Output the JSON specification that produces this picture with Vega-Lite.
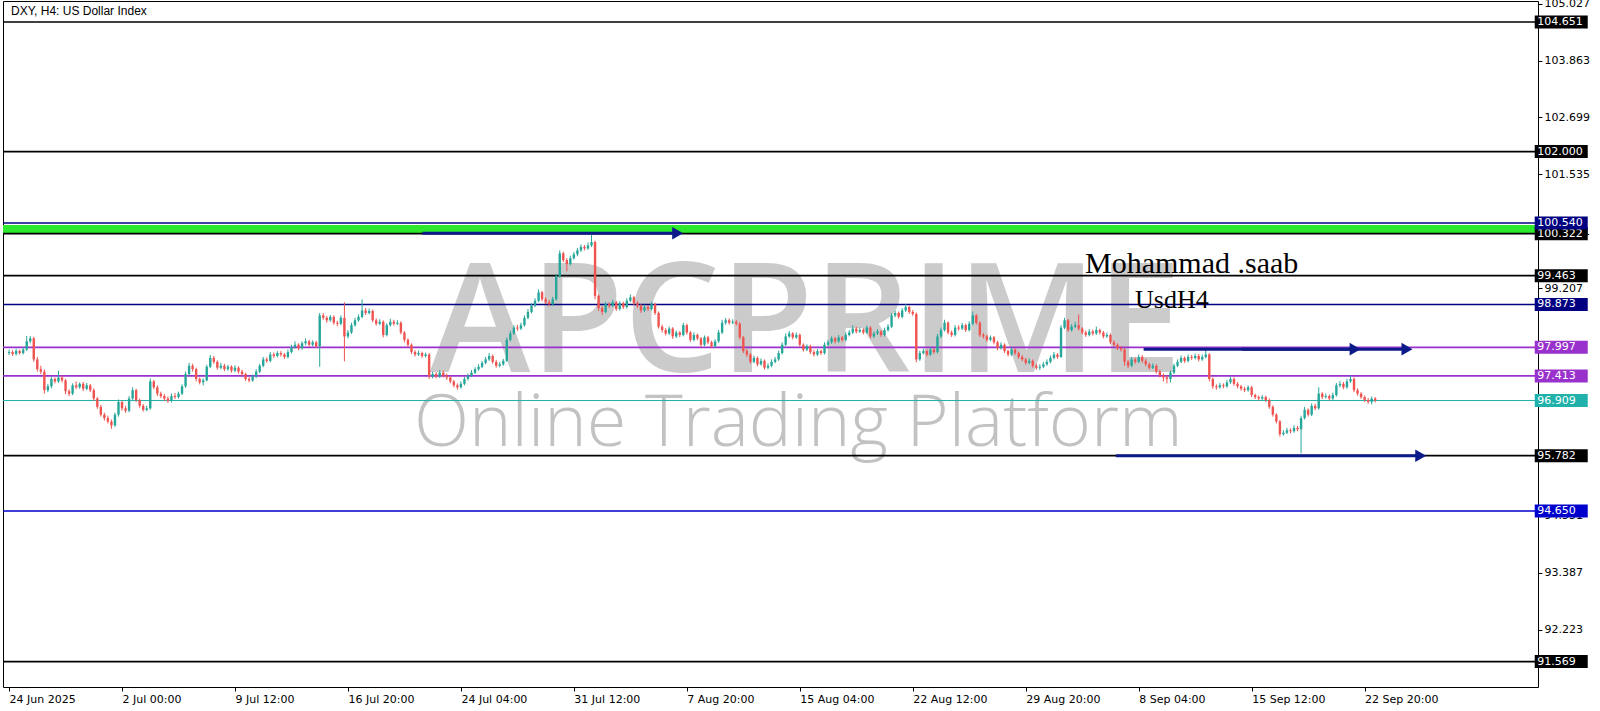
{
"$schema": "https://vega.github.io/schema/vega-lite/v6.json",
"width": 1535, "height": 686,
"autosize": {"type": "none"},
"padding": {"left": 3, "top": 1, "right": 62, "bottom": 24},
"background": "#ffffff",
"config": {"view": {"stroke": "#000000", "strokeWidth": 1}, "axis": {"labelFont": "DejaVu Sans"}},
"resolve": {"axis": {"x": "independent", "y": "independent"}},
"datasets": {
"bars": [
{"t":0,"o":97.88,"h":97.95,"l":97.84,"c":97.90},{"t":1,"o":97.90,"h":97.94,"l":97.82,"c":97.86},{"t":2,"o":97.86,"h":97.97,"l":97.83,"c":97.92},{"t":3,"o":97.92,"h":97.95,"l":97.85,"c":97.88},{"t":4,"o":97.88,"h":98.00,"l":97.85,"c":97.95},{"t":5,"o":97.95,"h":98.23,"l":97.92,"c":98.12},{"t":6,"o":98.12,"h":98.23,"l":98.08,"c":98.18},{"t":7,"o":98.18,"h":98.21,"l":97.70,"c":97.75},{"t":8,"o":97.75,"h":97.80,"l":97.50,"c":97.55},{"t":9,"o":97.55,"h":97.62,"l":97.45,"c":97.50},
{"t":10,"o":97.50,"h":97.54,"l":97.05,"c":97.12},{"t":11,"o":97.12,"h":97.25,"l":97.08,"c":97.20},{"t":12,"o":97.20,"h":97.40,"l":97.16,"c":97.35},{"t":13,"o":97.35,"h":97.38,"l":97.26,"c":97.30},{"t":14,"o":97.30,"h":97.52,"l":97.27,"c":97.38},{"t":15,"o":97.38,"h":97.42,"l":97.28,"c":97.32},{"t":16,"o":97.32,"h":97.35,"l":97.04,"c":97.10},{"t":17,"o":97.10,"h":97.14,"l":97.00,"c":97.05},{"t":18,"o":97.05,"h":97.26,"l":97.02,"c":97.22},{"t":19,"o":97.22,"h":97.30,"l":97.14,"c":97.18},
{"t":20,"o":97.18,"h":97.28,"l":97.15,"c":97.25},{"t":21,"o":97.25,"h":97.29,"l":97.10,"c":97.15},{"t":22,"o":97.15,"h":97.27,"l":97.12,"c":97.22},{"t":23,"o":97.22,"h":97.25,"l":97.08,"c":97.12},{"t":24,"o":97.12,"h":97.16,"l":96.90,"c":96.95},{"t":25,"o":96.95,"h":96.98,"l":96.74,"c":96.78},{"t":26,"o":96.78,"h":96.82,"l":96.58,"c":96.62},{"t":27,"o":96.62,"h":96.66,"l":96.50,"c":96.55},{"t":28,"o":96.55,"h":96.60,"l":96.44,"c":96.48},{"t":29,"o":96.48,"h":96.52,"l":96.33,"c":96.40},
{"t":30,"o":96.40,"h":96.66,"l":96.37,"c":96.62},{"t":31,"o":96.62,"h":96.93,"l":96.58,"c":96.88},{"t":32,"o":96.88,"h":96.90,"l":96.70,"c":96.75},{"t":33,"o":96.75,"h":96.80,"l":96.66,"c":96.70},{"t":34,"o":96.70,"h":97.00,"l":96.67,"c":96.95},{"t":35,"o":96.95,"h":97.18,"l":96.92,"c":97.12},{"t":36,"o":97.12,"h":97.15,"l":96.88,"c":96.92},{"t":37,"o":96.92,"h":96.95,"l":96.76,"c":96.80},{"t":38,"o":96.80,"h":96.84,"l":96.68,"c":96.72},{"t":39,"o":96.72,"h":96.80,"l":96.69,"c":96.75},
{"t":40,"o":96.75,"h":97.36,"l":96.72,"c":97.30},{"t":41,"o":97.30,"h":97.33,"l":97.14,"c":97.18},{"t":42,"o":97.18,"h":97.22,"l":97.00,"c":97.05},{"t":43,"o":97.05,"h":97.09,"l":96.96,"c":97.00},{"t":44,"o":97.00,"h":97.04,"l":96.90,"c":96.95},{"t":45,"o":96.95,"h":96.99,"l":96.86,"c":96.90},{"t":46,"o":96.90,"h":97.05,"l":96.87,"c":97.00},{"t":47,"o":97.00,"h":97.06,"l":96.94,"c":96.98},{"t":48,"o":96.98,"h":97.09,"l":96.95,"c":97.05},{"t":49,"o":97.05,"h":97.24,"l":97.02,"c":97.20},
{"t":50,"o":97.20,"h":97.50,"l":97.17,"c":97.45},{"t":51,"o":97.45,"h":97.68,"l":97.42,"c":97.62},{"t":52,"o":97.62,"h":97.66,"l":97.50,"c":97.55},{"t":53,"o":97.55,"h":97.58,"l":97.30,"c":97.35},{"t":54,"o":97.35,"h":97.38,"l":97.24,"c":97.28},{"t":55,"o":97.28,"h":97.36,"l":97.22,"c":97.32},{"t":56,"o":97.32,"h":97.64,"l":97.30,"c":97.60},{"t":57,"o":97.60,"h":97.84,"l":97.57,"c":97.78},{"t":58,"o":97.78,"h":97.82,"l":97.66,"c":97.70},{"t":59,"o":97.70,"h":97.73,"l":97.54,"c":97.58},
{"t":60,"o":97.58,"h":97.68,"l":97.55,"c":97.62},{"t":61,"o":97.62,"h":97.66,"l":97.51,"c":97.55},{"t":62,"o":97.55,"h":97.64,"l":97.52,"c":97.60},{"t":63,"o":97.60,"h":97.63,"l":97.48,"c":97.52},{"t":64,"o":97.52,"h":97.63,"l":97.49,"c":97.58},{"t":65,"o":97.58,"h":97.61,"l":97.46,"c":97.50},{"t":66,"o":97.50,"h":97.54,"l":97.41,"c":97.45},{"t":67,"o":97.45,"h":97.48,"l":97.31,"c":97.35},{"t":68,"o":97.35,"h":97.39,"l":97.28,"c":97.32},{"t":69,"o":97.32,"h":97.44,"l":97.29,"c":97.40},
{"t":70,"o":97.40,"h":97.55,"l":97.37,"c":97.50},{"t":71,"o":97.50,"h":97.66,"l":97.47,"c":97.62},{"t":72,"o":97.62,"h":97.80,"l":97.59,"c":97.75},{"t":73,"o":97.75,"h":97.79,"l":97.68,"c":97.72},{"t":74,"o":97.72,"h":97.90,"l":97.69,"c":97.85},{"t":75,"o":97.85,"h":97.89,"l":97.78,"c":97.82},{"t":76,"o":97.82,"h":97.92,"l":97.79,"c":97.88},{"t":77,"o":97.88,"h":97.92,"l":97.81,"c":97.85},{"t":78,"o":97.85,"h":97.88,"l":97.76,"c":97.80},{"t":79,"o":97.80,"h":97.95,"l":97.77,"c":97.90},
{"t":80,"o":97.90,"h":98.05,"l":97.87,"c":98.00},{"t":81,"o":98.00,"h":98.12,"l":97.97,"c":98.05},{"t":82,"o":98.05,"h":98.08,"l":97.94,"c":97.98},{"t":83,"o":97.98,"h":98.12,"l":97.95,"c":98.08},{"t":84,"o":98.08,"h":98.18,"l":98.04,"c":98.12},{"t":85,"o":98.12,"h":98.15,"l":98.01,"c":98.05},{"t":86,"o":98.05,"h":98.14,"l":98.02,"c":98.10},{"t":87,"o":98.10,"h":98.13,"l":97.98,"c":98.02},{"t":88,"o":98.02,"h":98.70,"l":97.60,"c":98.65},{"t":89,"o":98.65,"h":98.70,"l":98.56,"c":98.60},
{"t":90,"o":98.60,"h":98.64,"l":98.50,"c":98.55},{"t":91,"o":98.55,"h":98.66,"l":98.52,"c":98.62},{"t":92,"o":98.62,"h":98.65,"l":98.46,"c":98.50},{"t":93,"o":98.50,"h":98.54,"l":98.43,"c":98.48},{"t":94,"o":98.48,"h":98.65,"l":98.45,"c":98.60},{"t":95,"o":98.60,"h":98.92,"l":97.71,"c":98.22},{"t":96,"o":98.22,"h":98.35,"l":98.18,"c":98.30},{"t":97,"o":98.30,"h":98.50,"l":98.27,"c":98.45},{"t":98,"o":98.45,"h":98.60,"l":98.42,"c":98.55},{"t":99,"o":98.55,"h":98.67,"l":98.52,"c":98.62},
{"t":100,"o":98.62,"h":98.98,"l":98.59,"c":98.75},{"t":101,"o":98.75,"h":98.80,"l":98.66,"c":98.70},{"t":102,"o":98.70,"h":98.79,"l":98.67,"c":98.74},{"t":103,"o":98.74,"h":98.77,"l":98.51,"c":98.55},{"t":104,"o":98.55,"h":98.59,"l":98.44,"c":98.48},{"t":105,"o":98.48,"h":98.57,"l":98.45,"c":98.52},{"t":106,"o":98.52,"h":98.55,"l":98.20,"c":98.25},{"t":107,"o":98.25,"h":98.49,"l":98.22,"c":98.45},{"t":108,"o":98.45,"h":98.58,"l":98.42,"c":98.52},{"t":109,"o":98.52,"h":98.56,"l":98.44,"c":98.48},
{"t":110,"o":98.48,"h":98.55,"l":98.45,"c":98.50},{"t":111,"o":98.50,"h":98.53,"l":98.26,"c":98.30},{"t":112,"o":98.30,"h":98.33,"l":98.10,"c":98.15},{"t":113,"o":98.15,"h":98.18,"l":98.00,"c":98.05},{"t":114,"o":98.05,"h":98.08,"l":97.86,"c":97.90},{"t":115,"o":97.90,"h":97.94,"l":97.81,"c":97.85},{"t":116,"o":97.85,"h":97.93,"l":97.82,"c":97.88},{"t":117,"o":97.88,"h":97.91,"l":97.78,"c":97.82},{"t":118,"o":97.82,"h":97.89,"l":97.79,"c":97.85},{"t":119,"o":97.85,"h":97.88,"l":97.35,"c":97.40},
{"t":120,"o":97.40,"h":97.50,"l":97.36,"c":97.45},{"t":121,"o":97.45,"h":97.49,"l":97.36,"c":97.40},{"t":122,"o":97.40,"h":97.53,"l":97.37,"c":97.48},{"t":123,"o":97.48,"h":97.52,"l":97.38,"c":97.42},{"t":124,"o":97.42,"h":97.46,"l":97.33,"c":97.38},{"t":125,"o":97.38,"h":97.41,"l":97.26,"c":97.30},{"t":126,"o":97.30,"h":97.33,"l":97.18,"c":97.22},{"t":127,"o":97.22,"h":97.26,"l":97.13,"c":97.18},{"t":128,"o":97.18,"h":97.30,"l":97.15,"c":97.25},{"t":129,"o":97.25,"h":97.39,"l":97.22,"c":97.35},
{"t":130,"o":97.35,"h":97.46,"l":97.32,"c":97.42},{"t":131,"o":97.42,"h":97.53,"l":97.39,"c":97.48},{"t":132,"o":97.48,"h":97.59,"l":97.45,"c":97.55},{"t":133,"o":97.55,"h":97.65,"l":97.52,"c":97.60},{"t":134,"o":97.60,"h":97.72,"l":97.57,"c":97.68},{"t":135,"o":97.68,"h":97.80,"l":97.65,"c":97.75},{"t":136,"o":97.75,"h":97.88,"l":97.72,"c":97.82},{"t":137,"o":97.82,"h":97.85,"l":97.66,"c":97.70},{"t":138,"o":97.70,"h":97.74,"l":97.58,"c":97.62},{"t":139,"o":97.62,"h":97.70,"l":97.59,"c":97.65},
{"t":140,"o":97.65,"h":97.76,"l":97.62,"c":97.72},{"t":141,"o":97.72,"h":98.20,"l":97.70,"c":98.15},{"t":142,"o":98.15,"h":98.33,"l":98.12,"c":98.28},{"t":143,"o":98.28,"h":98.45,"l":98.25,"c":98.40},{"t":144,"o":98.40,"h":98.46,"l":98.33,"c":98.38},{"t":145,"o":98.38,"h":98.50,"l":98.35,"c":98.45},{"t":146,"o":98.45,"h":98.65,"l":98.42,"c":98.60},{"t":147,"o":98.60,"h":98.78,"l":98.57,"c":98.72},{"t":148,"o":98.72,"h":98.90,"l":98.69,"c":98.85},{"t":149,"o":98.85,"h":99.00,"l":98.82,"c":98.95},
{"t":150,"o":98.95,"h":99.18,"l":98.92,"c":99.12},{"t":151,"o":99.12,"h":99.15,"l":98.94,"c":98.98},{"t":152,"o":98.98,"h":99.02,"l":98.88,"c":98.92},{"t":153,"o":98.92,"h":98.96,"l":98.84,"c":98.88},{"t":154,"o":98.88,"h":99.03,"l":98.85,"c":98.98},{"t":155,"o":98.98,"h":99.50,"l":98.95,"c":99.45},{"t":156,"o":99.45,"h":99.98,"l":99.42,"c":99.92},{"t":157,"o":99.92,"h":99.95,"l":99.74,"c":99.78},{"t":158,"o":99.78,"h":99.82,"l":99.55,"c":99.70},{"t":159,"o":99.70,"h":99.87,"l":99.67,"c":99.82},
{"t":160,"o":99.82,"h":99.95,"l":99.79,"c":99.90},{"t":161,"o":99.90,"h":100.03,"l":99.86,"c":99.98},{"t":162,"o":99.98,"h":100.10,"l":99.95,"c":100.05},{"t":163,"o":100.05,"h":100.09,"l":99.98,"c":100.02},{"t":164,"o":100.02,"h":100.14,"l":99.99,"c":100.08},{"t":165,"o":100.08,"h":100.35,"l":100.05,"c":100.15},{"t":166,"o":100.15,"h":100.18,"l":98.98,"c":99.05},{"t":167,"o":99.05,"h":99.08,"l":98.74,"c":98.80},{"t":168,"o":98.80,"h":98.84,"l":98.66,"c":98.72},{"t":169,"o":98.72,"h":98.93,"l":98.69,"c":98.88},
{"t":170,"o":98.88,"h":98.92,"l":98.80,"c":98.85},{"t":171,"o":98.85,"h":98.97,"l":98.82,"c":98.92},{"t":172,"o":98.92,"h":98.95,"l":98.74,"c":98.78},{"t":173,"o":98.78,"h":98.94,"l":98.75,"c":98.90},{"t":174,"o":98.90,"h":98.93,"l":98.78,"c":98.82},{"t":175,"o":98.82,"h":99.00,"l":98.79,"c":98.95},{"t":176,"o":98.95,"h":99.08,"l":98.92,"c":99.02},{"t":177,"o":99.02,"h":99.05,"l":98.86,"c":98.90},{"t":178,"o":98.90,"h":98.94,"l":98.80,"c":98.85},{"t":179,"o":98.85,"h":98.88,"l":98.70,"c":98.75},
{"t":180,"o":98.75,"h":98.87,"l":98.72,"c":98.82},{"t":181,"o":98.82,"h":98.86,"l":98.74,"c":98.78},{"t":182,"o":98.78,"h":98.93,"l":98.75,"c":98.88},{"t":183,"o":98.88,"h":98.91,"l":98.66,"c":98.70},{"t":184,"o":98.70,"h":98.73,"l":98.38,"c":98.42},{"t":185,"o":98.42,"h":98.46,"l":98.30,"c":98.35},{"t":186,"o":98.35,"h":98.39,"l":98.24,"c":98.28},{"t":187,"o":98.28,"h":98.42,"l":98.25,"c":98.38},{"t":188,"o":98.38,"h":98.41,"l":98.17,"c":98.22},{"t":189,"o":98.22,"h":98.34,"l":98.19,"c":98.30},
{"t":190,"o":98.30,"h":98.33,"l":98.21,"c":98.25},{"t":191,"o":98.25,"h":98.50,"l":98.22,"c":98.45},{"t":192,"o":98.45,"h":98.48,"l":98.26,"c":98.30},{"t":193,"o":98.30,"h":98.33,"l":98.11,"c":98.15},{"t":194,"o":98.15,"h":98.30,"l":98.12,"c":98.25},{"t":195,"o":98.25,"h":98.28,"l":98.14,"c":98.18},{"t":196,"o":98.18,"h":98.21,"l":98.01,"c":98.05},{"t":197,"o":98.05,"h":98.24,"l":98.02,"c":98.20},{"t":198,"o":98.20,"h":98.23,"l":98.06,"c":98.10},{"t":199,"o":98.10,"h":98.13,"l":97.98,"c":98.02},
{"t":200,"o":98.02,"h":98.16,"l":97.99,"c":98.12},{"t":201,"o":98.12,"h":98.35,"l":98.09,"c":98.30},{"t":202,"o":98.30,"h":98.56,"l":98.27,"c":98.50},{"t":203,"o":98.50,"h":98.60,"l":98.46,"c":98.55},{"t":204,"o":98.55,"h":98.59,"l":98.46,"c":98.50},{"t":205,"o":98.50,"h":98.57,"l":98.47,"c":98.52},{"t":206,"o":98.52,"h":98.56,"l":98.44,"c":98.48},{"t":207,"o":98.48,"h":98.51,"l":98.16,"c":98.20},{"t":208,"o":98.20,"h":98.23,"l":97.88,"c":97.92},{"t":209,"o":97.92,"h":97.96,"l":97.80,"c":97.85},
{"t":210,"o":97.85,"h":97.88,"l":97.66,"c":97.70},{"t":211,"o":97.70,"h":97.83,"l":97.67,"c":97.78},{"t":212,"o":97.78,"h":97.81,"l":97.61,"c":97.65},{"t":213,"o":97.65,"h":97.77,"l":97.62,"c":97.72},{"t":214,"o":97.72,"h":97.75,"l":97.54,"c":97.58},{"t":215,"o":97.58,"h":97.67,"l":97.55,"c":97.62},{"t":216,"o":97.62,"h":97.75,"l":97.59,"c":97.70},{"t":217,"o":97.70,"h":97.80,"l":97.67,"c":97.75},{"t":218,"o":97.75,"h":97.93,"l":97.72,"c":97.88},{"t":219,"o":97.88,"h":98.10,"l":97.85,"c":98.05},
{"t":220,"o":98.05,"h":98.28,"l":98.02,"c":98.22},{"t":221,"o":98.22,"h":98.33,"l":98.19,"c":98.28},{"t":222,"o":98.28,"h":98.31,"l":98.16,"c":98.20},{"t":223,"o":98.20,"h":98.30,"l":98.17,"c":98.25},{"t":224,"o":98.25,"h":98.28,"l":98.01,"c":98.05},{"t":225,"o":98.05,"h":98.08,"l":97.91,"c":97.95},{"t":226,"o":97.95,"h":98.06,"l":97.92,"c":98.02},{"t":227,"o":98.02,"h":98.05,"l":97.86,"c":97.90},{"t":228,"o":97.90,"h":97.94,"l":97.81,"c":97.85},{"t":229,"o":97.85,"h":97.96,"l":97.82,"c":97.92},
{"t":230,"o":97.92,"h":97.95,"l":97.84,"c":97.88},{"t":231,"o":97.88,"h":98.10,"l":97.85,"c":98.05},{"t":232,"o":98.05,"h":98.15,"l":98.02,"c":98.10},{"t":233,"o":98.10,"h":98.22,"l":98.07,"c":98.18},{"t":234,"o":98.18,"h":98.21,"l":98.08,"c":98.12},{"t":235,"o":98.12,"h":98.25,"l":98.09,"c":98.20},{"t":236,"o":98.20,"h":98.23,"l":98.11,"c":98.15},{"t":237,"o":98.15,"h":98.30,"l":98.12,"c":98.25},{"t":238,"o":98.25,"h":98.35,"l":98.22,"c":98.30},{"t":239,"o":98.30,"h":98.45,"l":98.27,"c":98.38},
{"t":240,"o":98.38,"h":98.42,"l":98.28,"c":98.32},{"t":241,"o":98.32,"h":98.40,"l":98.29,"c":98.35},{"t":242,"o":98.35,"h":98.39,"l":98.26,"c":98.30},{"t":243,"o":98.30,"h":98.44,"l":98.27,"c":98.40},{"t":244,"o":98.40,"h":98.43,"l":98.18,"c":98.22},{"t":245,"o":98.22,"h":98.32,"l":98.19,"c":98.28},{"t":246,"o":98.28,"h":98.37,"l":98.25,"c":98.32},{"t":247,"o":98.32,"h":98.35,"l":98.21,"c":98.25},{"t":248,"o":98.25,"h":98.40,"l":98.22,"c":98.35},{"t":249,"o":98.35,"h":98.47,"l":98.32,"c":98.42},
{"t":250,"o":98.42,"h":98.70,"l":98.39,"c":98.65},{"t":251,"o":98.65,"h":98.75,"l":98.61,"c":98.70},{"t":252,"o":98.70,"h":98.73,"l":98.58,"c":98.62},{"t":253,"o":98.62,"h":98.80,"l":98.59,"c":98.75},{"t":254,"o":98.75,"h":98.88,"l":98.72,"c":98.82},{"t":255,"o":98.82,"h":98.85,"l":98.68,"c":98.72},{"t":256,"o":98.72,"h":98.76,"l":98.64,"c":98.68},{"t":257,"o":98.68,"h":98.71,"l":97.69,"c":97.75},{"t":258,"o":97.75,"h":97.93,"l":97.72,"c":97.88},{"t":259,"o":97.88,"h":97.97,"l":97.85,"c":97.92},
{"t":260,"o":97.92,"h":97.95,"l":97.81,"c":97.85},{"t":261,"o":97.85,"h":98.00,"l":97.82,"c":97.95},{"t":262,"o":97.95,"h":97.98,"l":97.86,"c":97.90},{"t":263,"o":97.90,"h":98.27,"l":97.87,"c":98.22},{"t":264,"o":98.22,"h":98.40,"l":98.19,"c":98.35},{"t":265,"o":98.35,"h":98.56,"l":98.32,"c":98.50},{"t":266,"o":98.50,"h":98.53,"l":98.26,"c":98.30},{"t":267,"o":98.30,"h":98.34,"l":98.21,"c":98.25},{"t":268,"o":98.25,"h":98.45,"l":98.22,"c":98.40},{"t":269,"o":98.40,"h":98.45,"l":98.34,"c":98.38},
{"t":270,"o":98.38,"h":98.50,"l":98.35,"c":98.45},{"t":271,"o":98.45,"h":98.48,"l":98.31,"c":98.35},{"t":272,"o":98.35,"h":98.53,"l":98.32,"c":98.48},{"t":273,"o":98.48,"h":98.73,"l":98.45,"c":98.65},{"t":274,"o":98.65,"h":98.68,"l":98.46,"c":98.50},{"t":275,"o":98.50,"h":98.53,"l":98.21,"c":98.25},{"t":276,"o":98.25,"h":98.29,"l":98.18,"c":98.22},{"t":277,"o":98.22,"h":98.26,"l":98.11,"c":98.15},{"t":278,"o":98.15,"h":98.24,"l":98.12,"c":98.20},{"t":279,"o":98.20,"h":98.23,"l":98.06,"c":98.10},
{"t":280,"o":98.10,"h":98.13,"l":97.94,"c":97.98},{"t":281,"o":97.98,"h":98.10,"l":97.95,"c":98.05},{"t":282,"o":98.05,"h":98.08,"l":97.88,"c":97.92},{"t":283,"o":97.92,"h":97.95,"l":97.81,"c":97.85},{"t":284,"o":97.85,"h":98.00,"l":97.82,"c":97.95},{"t":285,"o":97.95,"h":97.98,"l":97.84,"c":97.88},{"t":286,"o":97.88,"h":97.91,"l":97.76,"c":97.80},{"t":287,"o":97.80,"h":97.84,"l":97.71,"c":97.75},{"t":288,"o":97.75,"h":97.78,"l":97.64,"c":97.68},{"t":289,"o":97.68,"h":97.77,"l":97.65,"c":97.72},
{"t":290,"o":97.72,"h":97.75,"l":97.58,"c":97.62},{"t":291,"o":97.62,"h":97.66,"l":97.54,"c":97.58},{"t":292,"o":97.58,"h":97.65,"l":97.53,"c":97.60},{"t":293,"o":97.60,"h":97.70,"l":97.57,"c":97.65},{"t":294,"o":97.65,"h":97.75,"l":97.62,"c":97.70},{"t":295,"o":97.70,"h":97.83,"l":97.67,"c":97.78},{"t":296,"o":97.78,"h":97.90,"l":97.75,"c":97.85},{"t":297,"o":97.85,"h":97.88,"l":97.76,"c":97.80},{"t":298,"o":97.80,"h":98.45,"l":97.78,"c":98.40},{"t":299,"o":98.40,"h":98.60,"l":98.37,"c":98.55},
{"t":300,"o":98.55,"h":98.58,"l":98.31,"c":98.35},{"t":301,"o":98.35,"h":98.47,"l":98.32,"c":98.42},{"t":302,"o":98.42,"h":98.52,"l":98.39,"c":98.45},{"t":303,"o":98.45,"h":98.67,"l":98.34,"c":98.38},{"t":304,"o":98.38,"h":98.41,"l":98.26,"c":98.30},{"t":305,"o":98.30,"h":98.34,"l":98.21,"c":98.25},{"t":306,"o":98.25,"h":98.37,"l":98.22,"c":98.32},{"t":307,"o":98.32,"h":98.36,"l":98.24,"c":98.28},{"t":308,"o":98.28,"h":98.42,"l":98.25,"c":98.35},{"t":309,"o":98.35,"h":98.38,"l":98.26,"c":98.30},
{"t":310,"o":98.30,"h":98.33,"l":98.18,"c":98.22},{"t":311,"o":98.22,"h":98.30,"l":98.19,"c":98.25},{"t":312,"o":98.25,"h":98.28,"l":98.06,"c":98.10},{"t":313,"o":98.10,"h":98.14,"l":98.01,"c":98.05},{"t":314,"o":98.05,"h":98.08,"l":97.94,"c":97.98},{"t":315,"o":97.98,"h":98.02,"l":97.91,"c":97.95},{"t":316,"o":97.95,"h":97.98,"l":97.62,"c":97.70},{"t":317,"o":97.70,"h":97.74,"l":97.57,"c":97.62},{"t":318,"o":97.62,"h":97.80,"l":97.59,"c":97.75},{"t":319,"o":97.75,"h":97.79,"l":97.66,"c":97.70},
{"t":320,"o":97.70,"h":97.85,"l":97.67,"c":97.80},{"t":321,"o":97.80,"h":97.84,"l":97.68,"c":97.72},{"t":322,"o":97.72,"h":97.76,"l":97.61,"c":97.65},{"t":323,"o":97.65,"h":97.68,"l":97.54,"c":97.58},{"t":324,"o":97.58,"h":97.67,"l":97.55,"c":97.62},{"t":325,"o":97.62,"h":97.65,"l":97.46,"c":97.50},{"t":326,"o":97.50,"h":97.54,"l":97.38,"c":97.42},{"t":327,"o":97.42,"h":97.46,"l":97.30,"c":97.38},{"t":328,"o":97.38,"h":97.42,"l":97.26,"c":97.35},{"t":329,"o":97.35,"h":97.52,"l":97.28,"c":97.48},
{"t":330,"o":97.48,"h":97.66,"l":97.45,"c":97.62},{"t":331,"o":97.62,"h":97.75,"l":97.59,"c":97.70},{"t":332,"o":97.70,"h":97.83,"l":97.67,"c":97.78},{"t":333,"o":97.78,"h":97.81,"l":97.68,"c":97.72},{"t":334,"o":97.72,"h":97.85,"l":97.69,"c":97.80},{"t":335,"o":97.80,"h":97.84,"l":97.74,"c":97.78},{"t":336,"o":97.78,"h":97.87,"l":97.75,"c":97.82},{"t":337,"o":97.82,"h":97.86,"l":97.71,"c":97.75},{"t":338,"o":97.75,"h":97.85,"l":97.72,"c":97.80},{"t":339,"o":97.80,"h":97.96,"l":97.77,"c":97.85},
{"t":340,"o":97.85,"h":97.88,"l":97.30,"c":97.35},{"t":341,"o":97.35,"h":97.38,"l":97.15,"c":97.20},{"t":342,"o":97.20,"h":97.24,"l":97.13,"c":97.18},{"t":343,"o":97.18,"h":97.27,"l":97.15,"c":97.22},{"t":344,"o":97.22,"h":97.26,"l":97.16,"c":97.20},{"t":345,"o":97.20,"h":97.33,"l":97.17,"c":97.28},{"t":346,"o":97.28,"h":97.40,"l":97.25,"c":97.35},{"t":347,"o":97.35,"h":97.38,"l":97.21,"c":97.25},{"t":348,"o":97.25,"h":97.29,"l":97.16,"c":97.20},{"t":349,"o":97.20,"h":97.23,"l":97.11,"c":97.15},
{"t":350,"o":97.15,"h":97.19,"l":97.08,"c":97.12},{"t":351,"o":97.12,"h":97.22,"l":97.09,"c":97.18},{"t":352,"o":97.18,"h":97.21,"l":96.98,"c":97.02},{"t":353,"o":97.02,"h":97.05,"l":96.94,"c":96.98},{"t":354,"o":96.98,"h":97.01,"l":96.91,"c":96.95},{"t":355,"o":96.95,"h":97.02,"l":96.92,"c":96.98},{"t":356,"o":96.98,"h":97.01,"l":96.88,"c":96.92},{"t":357,"o":96.92,"h":96.95,"l":96.74,"c":96.78},{"t":358,"o":96.78,"h":96.81,"l":96.58,"c":96.62},{"t":359,"o":96.62,"h":96.65,"l":96.44,"c":96.48},
{"t":360,"o":96.48,"h":96.51,"l":96.17,"c":96.22},{"t":361,"o":96.22,"h":96.30,"l":96.19,"c":96.25},{"t":362,"o":96.25,"h":96.35,"l":96.22,"c":96.30},{"t":363,"o":96.30,"h":96.34,"l":96.24,"c":96.28},{"t":364,"o":96.28,"h":96.40,"l":96.25,"c":96.35},{"t":365,"o":96.35,"h":96.39,"l":96.28,"c":96.32},{"t":366,"o":96.32,"h":96.60,"l":95.83,"c":96.55},{"t":367,"o":96.55,"h":96.78,"l":96.52,"c":96.72},{"t":368,"o":96.72,"h":96.75,"l":96.58,"c":96.62},{"t":369,"o":96.62,"h":96.85,"l":96.59,"c":96.80},
{"t":370,"o":96.80,"h":96.84,"l":96.71,"c":96.75},{"t":371,"o":96.75,"h":97.18,"l":96.72,"c":97.05},{"t":372,"o":97.05,"h":97.08,"l":96.94,"c":96.98},{"t":373,"o":96.98,"h":97.05,"l":96.95,"c":97.00},{"t":374,"o":97.00,"h":97.03,"l":96.91,"c":96.95},{"t":375,"o":96.95,"h":97.07,"l":96.92,"c":97.02},{"t":376,"o":97.02,"h":97.27,"l":96.99,"c":97.22},{"t":377,"o":97.22,"h":97.31,"l":97.18,"c":97.25},{"t":378,"o":97.25,"h":97.29,"l":97.14,"c":97.18},{"t":379,"o":97.18,"h":97.35,"l":97.15,"c":97.30},
{"t":380,"o":97.30,"h":97.42,"l":97.27,"c":97.35},{"t":381,"o":97.35,"h":97.38,"l":97.08,"c":97.12},{"t":382,"o":97.12,"h":97.16,"l":97.01,"c":97.05},{"t":383,"o":97.05,"h":97.08,"l":96.94,"c":96.98},{"t":384,"o":96.98,"h":97.01,"l":96.88,"c":96.92},{"t":385,"o":96.92,"h":96.96,"l":96.84,"c":96.88},{"t":386,"o":96.88,"h":96.99,"l":96.83,"c":96.95},{"t":387,"o":96.95,"h":96.98,"l":96.87,"c":96.91}
],
"levels": [
{"p":104.651,"k":"major"},{"p":102.0,"k":"major"},{"p":100.322,"k":"major"},{"p":100.54,"k":"zone"},{"p":99.463,"k":"major"},{"p":98.873,"k":"zone"},{"p":97.997,"k":"pivot"},{"p":97.413,"k":"pivot"},{"p":96.909,"k":"price"},{"p":95.782,"k":"major"},{"p":94.65,"k":"target"},{"p":91.569,"k":"major"}
],
"arrows": [
{"a":"a1","x":117.1,"p":100.33},{"a":"a1","x":188.3,"p":100.33},
{"a":"a2","x":321.4,"p":97.96},{"a":"a2","x":380.2,"p":97.96},
{"a":"a3","x":349.3,"p":97.96},{"a":"a3","x":394.8,"p":97.96},
{"a":"a4","x":313.5,"p":95.78},{"a":"a4","x":398.7,"p":95.78}
],
"heads": [
{"x":189.4,"p":100.33},{"x":381.3,"p":97.96},{"x":396.0,"p":97.96},{"x":399.9,"p":95.78}
]
},
"layer": [
{
"data": {"values": [{"x":225.7,"p":97.493,"label":"APCPRIME"}]},
"mark": {"type":"text","font":"Open Sans","fontSize":152,"fontWeight":600,"align":"center","baseline":"alphabetic","color":"#c6c6c6","opacity":0.9},
"encoding": {
"x": {"field":"x","type":"quantitative","scale":{"type":"linear","domain":[-0.3,431.7],"nice":false,"zero":false},"axis":null},
"y": {"field":"p","type":"quantitative","scale":{"domain":[91.05,105.08],"nice":false,"zero":false},"axis":null},
"text": {"field":"label"}
}
},
{
"data": {"values": [{"x":223.6,"p":95.98,"label":"Online Trading Platform"}]},
"mark": {"type":"text","font":"Open Sans","fontSize":72,"fontWeight":300,"align":"center","baseline":"alphabetic","color":"#bcbcbc","opacity":0.9},
"encoding": {
"x": {"field":"x","type":"quantitative","scale":{"type":"linear","domain":[-0.3,431.7],"nice":false,"zero":false},"axis":null},
"y": {"field":"p","type":"quantitative","scale":{"domain":[91.05,105.08],"nice":false,"zero":false},"axis":null},
"text": {"field":"label"}
}
},
{
"data": {"values": [{"top":100.50,"bottom":100.335}]},
"mark": {"type":"rect","color":"#2ee82e"},
"encoding": {
"y": {"field":"top","type":"quantitative","scale":{"domain":[91.05,105.08],"nice":false,"zero":false},"axis":null},
"y2": {"field":"bottom"}
}
},
{
"data": {"name":"levels"},
"mark": {"type":"rule"},
"encoding": {
"y": {"field":"p","type":"quantitative","scale":{"domain":[91.05,105.08],"nice":false,"zero":false},"axis":null},
"color": {"field":"k","type":"nominal","scale":{"domain":["major","zone","pivot","price","target"],"range":["#000000","#000080","#9932cc","#20b2aa","#0000cd"]},"legend":null},
"strokeWidth": {"condition":{"test":"datum.k == 'price'","value":1},"value":1.7}
}
},
{
"data": {"name":"bars"},
"mark": {"type":"rule","strokeWidth":1},
"encoding": {
"x": {"field":"t","type":"quantitative","scale":{"type":"linear","domain":[-0.3,431.7],"nice":false,"zero":false},
"axis":{"title":null,"orient":"bottom","values":[0,32,64,96,128,160,192,224,256,288,320,352,384],
"labelExpr":"['24 Jun 2025','2 Jul 00:00','9 Jul 12:00','16 Jul 20:00','24 Jul 04:00','31 Jul 12:00','7 Aug 20:00','15 Aug 04:00','22 Aug 12:00','29 Aug 20:00','8 Sep 04:00','15 Sep 12:00','22 Sep 20:00'][round(datum.value/32)]",
"grid":false,"domain":false,"ticks":true,"tickSize":4,"tickColor":"#000000","labelAlign":"left","labelBaseline":"top","labelPadding":2,"labelFont":"DejaVu Sans","labelFontSize":11,"labelColor":"#000000","labelFlush":false,"labelOverlap":false,"labelBound":false}},
"y": {"field":"l","type":"quantitative","scale":{"domain":[91.05,105.08],"nice":false,"zero":false},
"axis":{"title":null,"orient":"right","values":[105.027,103.863,102.699,101.535,100.371,99.207,98.043,96.879,95.715,94.551,93.387,92.223],"format":".3f",
"grid":false,"domain":false,"ticks":true,"tickSize":4,"tickColor":"#000000","labelPadding":2,"labelFont":"DejaVu Sans","labelFontSize":11,"labelColor":"#000000","labelFlush":false,"labelOverlap":false,"labelBound":false}},
"y2": {"field":"h"},
"color": {"condition":{"test":"datum.c >= datum.o","value":"#26a69a"},"value":"#ef5350"}
}
},
{
"data": {"name":"bars"},
"mark": {"type":"bar","width":2.4},
"encoding": {
"x": {"field":"t","type":"quantitative","scale":{"type":"linear","domain":[-0.3,431.7],"nice":false,"zero":false},"axis":null},
"y": {"field":"o","type":"quantitative","scale":{"domain":[91.05,105.08],"nice":false,"zero":false},"axis":null},
"y2": {"field":"c"},
"color": {"condition":{"test":"datum.c >= datum.o","value":"#26a69a"},"value":"#ef5350"}
}
},
{
"data": {"name":"arrows"},
"mark": {"type":"line","strokeWidth":3,"color":"#0c1a8a","strokeCap":"butt"},
"encoding": {
"x": {"field":"x","type":"quantitative","scale":{"type":"linear","domain":[-0.3,431.7],"nice":false,"zero":false},"axis":null},
"y": {"field":"p","type":"quantitative","scale":{"domain":[91.05,105.08],"nice":false,"zero":false},"axis":null},
"detail": {"field":"a"}
}
},
{
"data": {"name":"heads"},
"mark": {"type":"point","shape":"triangle-right","filled":true,"size":160,"color":"#0c1a8a","opacity":1},
"encoding": {
"x": {"field":"x","type":"quantitative","scale":{"type":"linear","domain":[-0.3,431.7],"nice":false,"zero":false},"axis":null},
"y": {"field":"p","type":"quantitative","scale":{"domain":[91.05,105.08],"nice":false,"zero":false},"axis":null}
}
},
{
"data": {"values": [{"x":335.0,"p":99.518,"label":"Mohammad .saab"}]},
"mark": {"type":"text","font":"Liberation Serif","fontSize":30,"align":"center","baseline":"alphabetic","color":"#000000"},
"encoding": {
"x": {"field":"x","type":"quantitative","scale":{"type":"linear","domain":[-0.3,431.7],"nice":false,"zero":false},"axis":null},
"y": {"field":"p","type":"quantitative","scale":{"domain":[91.05,105.08],"nice":false,"zero":false},"axis":null},
"text": {"field":"label"}
}
},
{
"data": {"values": [{"x":329.4,"p":98.80,"label":"UsdH4"}]},
"mark": {"type":"text","font":"Liberation Serif","fontSize":26,"align":"center","baseline":"alphabetic","color":"#000000"},
"encoding": {
"x": {"field":"x","type":"quantitative","scale":{"type":"linear","domain":[-0.3,431.7],"nice":false,"zero":false},"axis":null},
"y": {"field":"p","type":"quantitative","scale":{"domain":[91.05,105.08],"nice":false,"zero":false},"axis":null},
"text": {"field":"label"}
}
},
{
"data": {"values": [{"x":0.54,"p":104.876,"label":"DXY, H4:  US Dollar Index"}]},
"mark": {"type":"text","font":"Liberation Sans","fontSize":12,"align":"left","baseline":"middle","color":"#000000"},
"encoding": {
"x": {"field":"x","type":"quantitative","scale":{"type":"linear","domain":[-0.3,431.7],"nice":false,"zero":false},"axis":null},
"y": {"field":"p","type":"quantitative","scale":{"domain":[91.05,105.08],"nice":false,"zero":false},"axis":null},
"text": {"field":"label"}
}
},
{
"data": {"name":"levels"},
"transform": [{"filter":"datum.p == 100.322"}],
"layer": [
{
"mark": {"type":"tick","orient":"horizontal","size":53,"thickness":13,"opacity":1,"clip":false},
"encoding": {
"x": {"datum":439.7,"type":"quantitative","scale":{"type":"linear","domain":[-0.3,431.7],"nice":false,"zero":false},"axis":null},
"y": {"field":"p","type":"quantitative","scale":{"domain":[91.05,105.08],"nice":false,"zero":false},"axis":null},
"color": {"field":"k","type":"nominal","scale":{"domain":["major","zone","pivot","price","target"],"range":["#000000","#000080","#9932cc","#20b2aa","#0000cd"]},"legend":null}
}
},
{
"mark": {"type":"text","font":"DejaVu Sans","fontSize":11,"align":"left","baseline":"middle","color":"#ffffff","clip":false},
"encoding": {
"x": {"datum":432.9,"type":"quantitative","scale":{"type":"linear","domain":[-0.3,431.7],"nice":false,"zero":false},"axis":null},
"y": {"field":"p","type":"quantitative","scale":{"domain":[91.05,105.08],"nice":false,"zero":false},"axis":null},
"text": {"field":"p","format":".3f"}
}
}
]
},
{
"data": {"name":"levels"},
"transform": [{"filter":"datum.p != 100.322"}],
"layer": [
{
"mark": {"type":"tick","orient":"horizontal","size":53,"thickness":13,"opacity":1,"clip":false},
"encoding": {
"x": {"datum":439.7,"type":"quantitative","scale":{"type":"linear","domain":[-0.3,431.7],"nice":false,"zero":false},"axis":null},
"y": {"field":"p","type":"quantitative","scale":{"domain":[91.05,105.08],"nice":false,"zero":false},"axis":null},
"color": {"field":"k","type":"nominal","scale":{"domain":["major","zone","pivot","price","target"],"range":["#000000","#000080","#9932cc","#20b2aa","#0000cd"]},"legend":null}
}
},
{
"mark": {"type":"text","font":"DejaVu Sans","fontSize":11,"align":"left","baseline":"middle","color":"#ffffff","clip":false},
"encoding": {
"x": {"datum":432.9,"type":"quantitative","scale":{"type":"linear","domain":[-0.3,431.7],"nice":false,"zero":false},"axis":null},
"y": {"field":"p","type":"quantitative","scale":{"domain":[91.05,105.08],"nice":false,"zero":false},"axis":null},
"text": {"field":"p","format":".3f"}
}
}
]
}
]
}
